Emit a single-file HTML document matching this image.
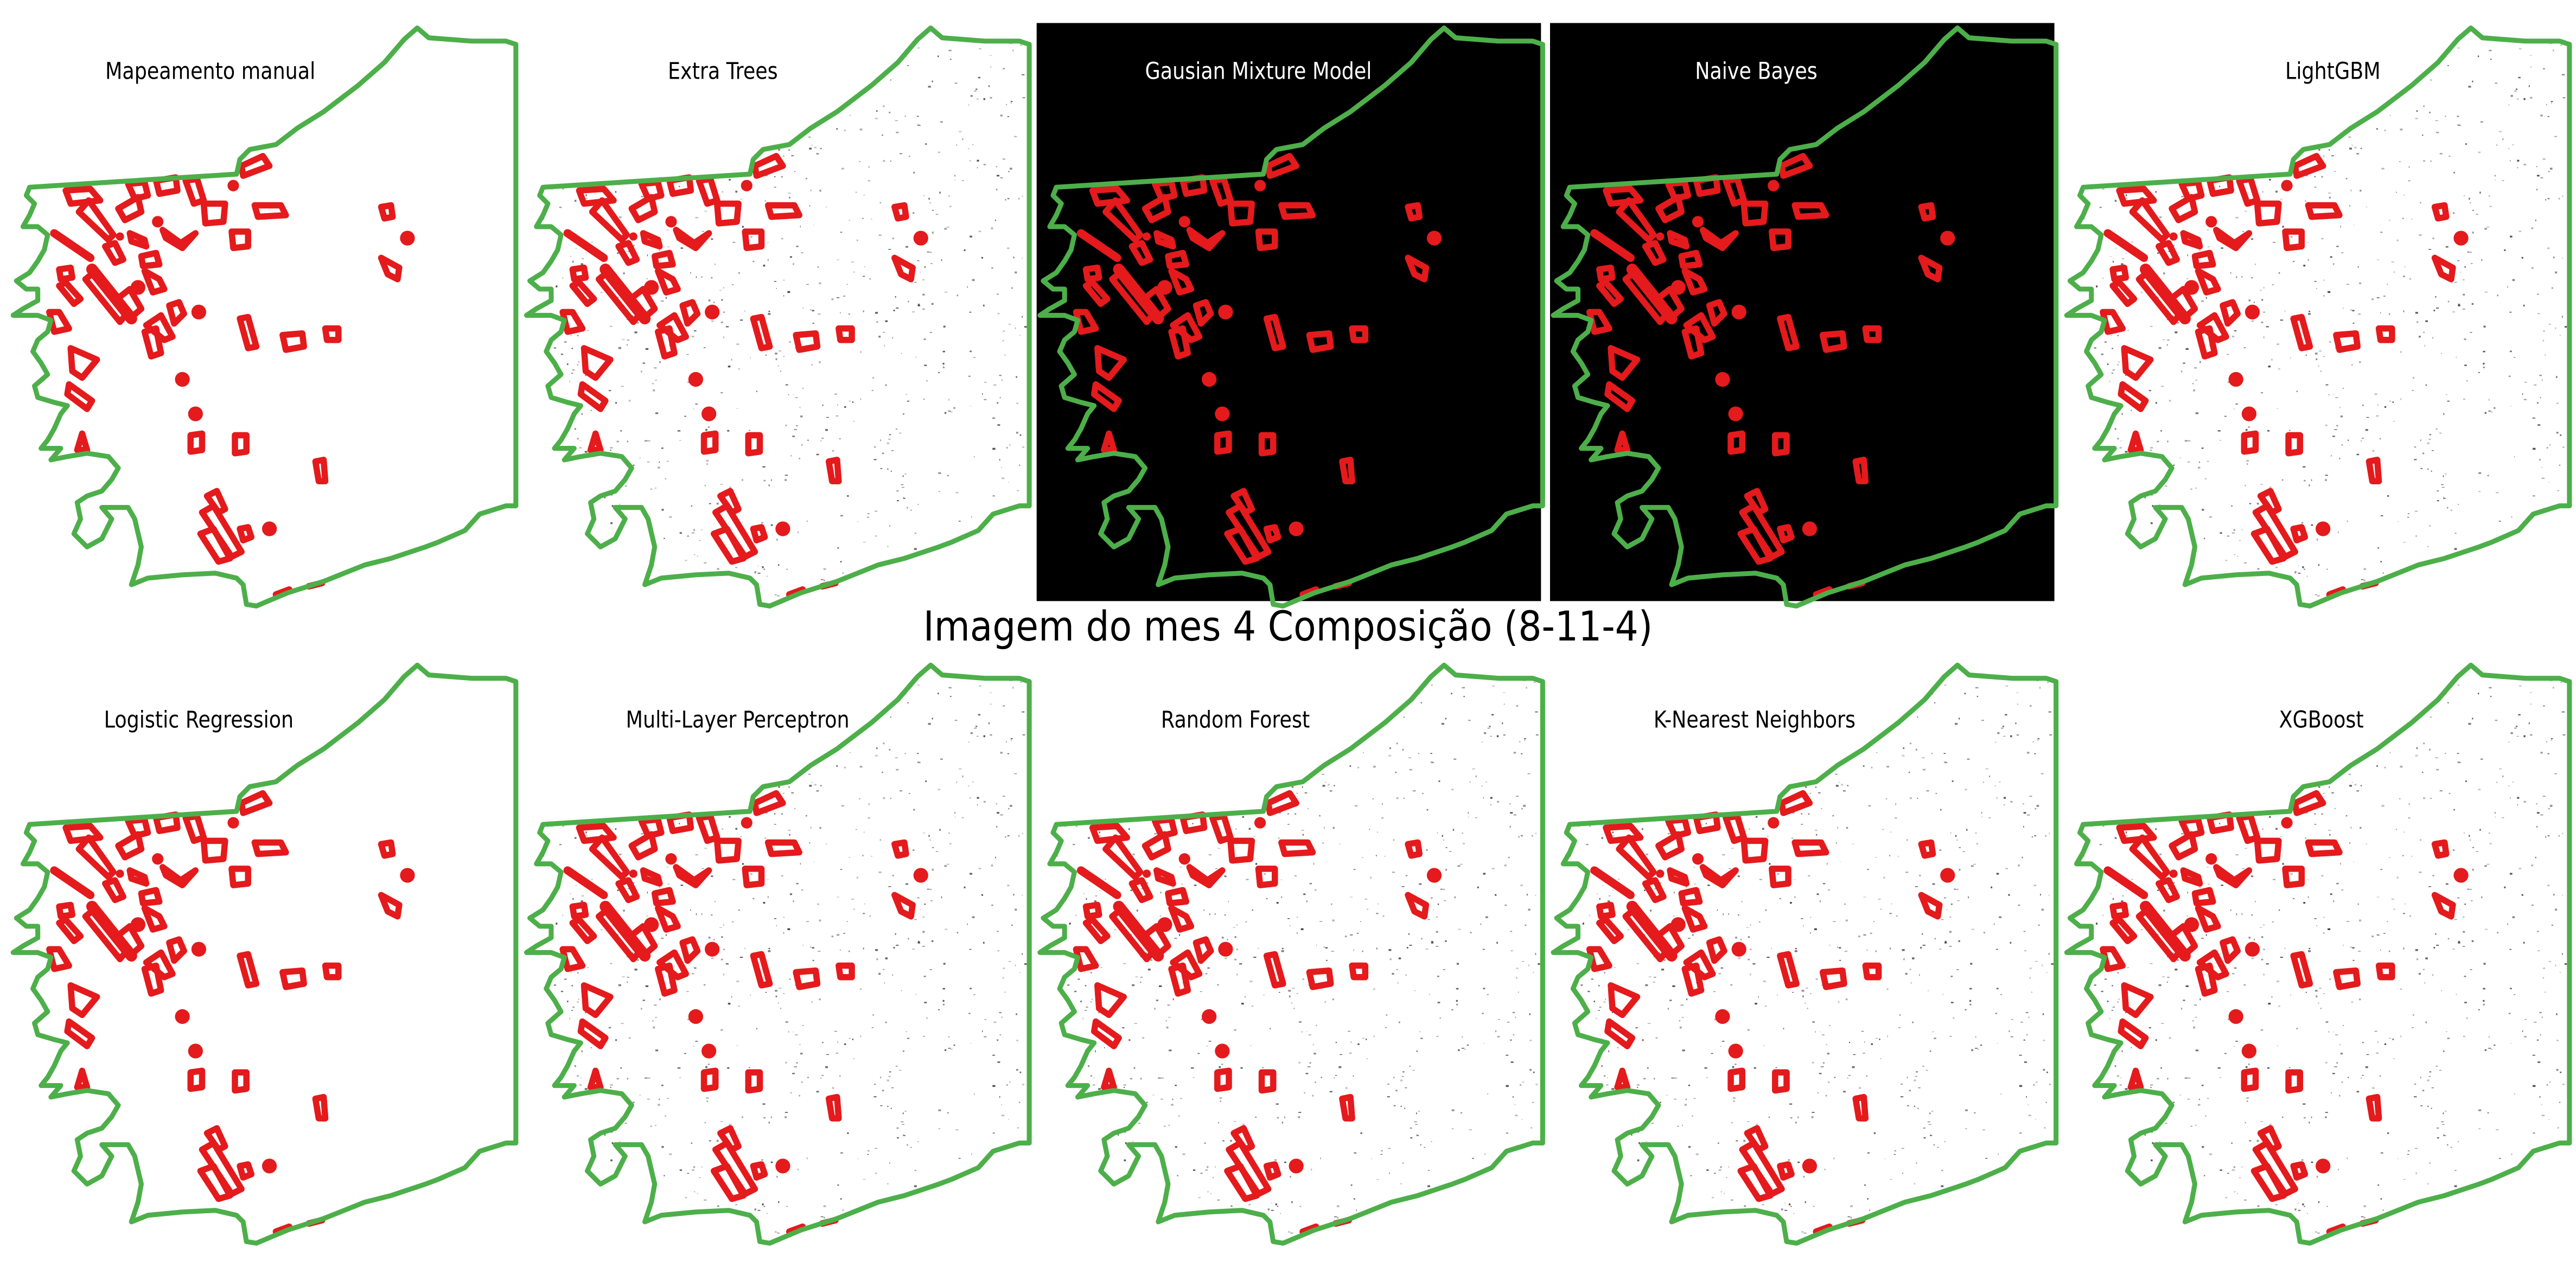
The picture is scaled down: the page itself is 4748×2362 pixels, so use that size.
<!DOCTYPE html>
<html><head><meta charset="utf-8"><style>
html,body{margin:0;padding:0;background:#fff;}
svg{display:block;}
</style></head><body>
<svg id="fig" xmlns="http://www.w3.org/2000/svg" width="4748" height="2362" viewBox="0 0 1568 780">
<rect x="0" y="0" width="1568" height="780" fill="#fff"/>
<text x="784" y="390" text-anchor="middle" font-family="DejaVu Sans, Liberation Sans, sans-serif" font-size="25" textLength="444" lengthAdjust="spacingAndGlyphs" fill="#000">Imagem do mes 4 Composição (8-11-4)</text>
</svg>
<script>
const panelTitles = ["Mapeamento manual","Extra Trees","Gausian Mixture Model","Naive Bayes","LightGBM","Logistic Regression","Multi-Layer Perceptron","Random Forest","K-Nearest Neighbors","XGBoost"];
const panelNames = ["manual-mapping","extra-trees","gaussian-mixture-model","naive-bayes","lightgbm","logistic-regression","multi-layer-perceptron","random-forest","k-nearest-neighbors","xgboost"];
const titleCenters = [128,440,766,1069,1420,121,449,752,1068,1413];
const darkPanels = [false,false,true,true,false,false,false,false,false,false];
const speckle = [0,1,0,0,1,0,1,1,1,1];

const boundary = [18,114,144,106,146,97,152,91,168,88,181,78,197,68,218,52,234,38,246,24,254,17,261,23,287,25,308,25,314,27,314,308,308,308,292,313,283,323,267,330,259,333,238,340,222,344,197,354,175,361,156,369,150,368,148,356,144,352,131,349,111,350,90,352,80,356,84,344,86,333,82,316,78,309,74,309,62,309,68,316,62,328,53,333,45,325,49,316,47,306,53,302,62,299,68,292,72,285,66,278,53,276,41,278,31,280,37,273,25,273,29,268,33,261,37,252,41,247,33,245,23,242,21,235,29,228,25,221,20,214,23,207,29,202,31,195,23,192,16,192,8,192,14,188,23,183,23,176,16,176,10,171,18,166,23,159,27,152,29,143,23,138,14,138,18,131,21,124,16,119];
const polys = [
[147,101,160,95,164,101,148,107],[40,116,55,115,61,122,43,124],[48,129,54,122,69,143,66,146],
[72,127,84,120,86,129,76,134],[78,112,88,111,90,119,82,121],[95,110,107,108,108,116,97,118],
[113,110,120,109,124,122,118,124],[124,124,137,124,136,135,125,136],[155,125,171,125,174,131,157,132],
[141,141,151,141,151,150,142,151],[99,140,110,148,119,142,111,151,101,145],[79,142,88,146,89,150,80,147],
[64,150,70,148,75,158,70,160],[86,156,95,154,97,161,87,162],[52,170,57,166,78,190,73,196],
[70,183,79,176,86,188,79,194],[36,164,43,163,44,169,37,170],[36,174,40,172,49,182,45,185],
[88,165,97,170,100,176,93,178],[30,190,36,190,42,200,33,202],[89,198,98,192,105,205,100,207],
[88,202,95,200,98,215,92,217],[103,186,109,184,112,191,106,197],[146,194,151,193,156,211,151,212],
[172,204,184,203,185,211,174,213],[198,200,206,200,206,207,199,207],[43,212,59,219,50,230,44,226],
[42,234,56,244,53,249,41,240],[116,265,123,264,123,274,116,275],[143,265,150,265,150,275,143,276],
[192,281,197,280,198,293,194,293],[50,264,53,274,47,274],[126,302,132,299,137,310,133,312],
[123,312,130,308,147,336,141,339],[122,325,130,322,140,340,133,342],[146,322,151,321,153,327,148,329],
[232,126,238,125,239,132,234,133],[232,157,243,163,242,170,236,167]];
const blobs = [[142,113,3.5],[96,135,3.5],[73,144,2.5],[84,175,4.5],[121,190,4.5],[111,231,4.5],[119,252,4.5],[164,322,4.5],[248,145,4.5]];
const bars = [[33,142,55,157,5],[56,164,80,194,7],[168,362,176,359,4],[188,357,196,355,4]];

const NS = "http://www.w3.org/2000/svg";
const svg = document.getElementById('fig');
const colStep = 312.5, rowStep = 388;
let seed = 12345;
function rnd(){ seed = (seed*1103515245+12345) % 2147483648; return seed/2147483648; }
const ptsStr = (a,dx,dy)=>{let s=[];for(let i=0;i<a.length;i+=2)s.push((a[i]+dx).toFixed(1)+","+(a[i+1]+dy).toFixed(1));return s.join(" ");};

const defs = document.createElementNS(NS,'defs');
svg.appendChild(defs);

panelTitles.forEach((title,i)=>{
  const col = i%5, row = Math.floor(i/5);
  const dx = col*colStep, dy = row*rowStep;
  const g = document.createElementNS(NS,'g');
  
  
  svg.appendChild(g);
  if (darkPanels[i]) {
    const bg = document.createElementNS(NS,'rect');
    
    
    bg.setAttribute('x', 631+dx-625); bg.setAttribute('y', 14+dy);
    bg.setAttribute('width', 307); bg.setAttribute('height', 352);
    bg.setAttribute('fill', '#000');
    g.appendChild(bg);
  }
  if (speckle[i]) {
    const cp = document.createElementNS(NS,'clipPath');
    cp.setAttribute('id','clip'+i);
    const cpp = document.createElementNS(NS,'polygon');
    cpp.setAttribute('points', ptsStr(boundary,dx,dy));
    cp.appendChild(cpp); defs.appendChild(cp);
    const sg = document.createElementNS(NS,'g');
    
    
    sg.setAttribute('clip-path','url(#clip'+i+')');
    seed = 777;
    for (let k=0;k<900;k++){
      const x = 15+rnd()*300, y = 20+rnd()*350;
      const c = document.createElementNS(NS,'rect');
      c.setAttribute('x',(x+dx).toFixed(1)); c.setAttribute('y',(y+dy).toFixed(1));
      const w = 0.4+rnd()*1.4;
      c.setAttribute('width',w.toFixed(2)); c.setAttribute('height',(0.4+rnd()*0.8).toFixed(2));
      c.setAttribute('fill','#000'); c.setAttribute('opacity',(0.2+rnd()*0.5).toFixed(2));
      sg.appendChild(c);
    }
    g.appendChild(sg);
  }
  const redG = document.createElementNS(NS,'g');
  
  
  g.appendChild(redG);
  polys.forEach(p=>{
    const e = document.createElementNS(NS,'polygon');
    
    
    e.setAttribute('points', ptsStr(p,dx,dy));
    e.setAttribute('fill','none'); e.setAttribute('stroke','#e41a1c');
    e.setAttribute('stroke-width','3.8'); e.setAttribute('stroke-linejoin','round');
    redG.appendChild(e);
  });
  blobs.forEach(b=>{
    const e = document.createElementNS(NS,'circle');
    
    
    e.setAttribute('cx', b[0]+dx); e.setAttribute('cy', b[1]+dy); e.setAttribute('r', b[2]);
    e.setAttribute('fill','#e41a1c');
    redG.appendChild(e);
  });
  bars.forEach(b=>{
    const e = document.createElementNS(NS,'line');
    
    
    e.setAttribute('x1', b[0]+dx); e.setAttribute('y1', b[1]+dy);
    e.setAttribute('x2', b[2]+dx); e.setAttribute('y2', b[3]+dy);
    e.setAttribute('stroke','#e41a1c'); e.setAttribute('stroke-width', b[4]);
    e.setAttribute('stroke-linecap','round');
    redG.appendChild(e);
  });
  const bd = document.createElementNS(NS,'polygon');
  
  
  bd.setAttribute('points', ptsStr(boundary,dx,dy));
  bd.setAttribute('fill','none'); bd.setAttribute('stroke','#4daf4a');
  bd.setAttribute('stroke-width','3'); bd.setAttribute('stroke-linejoin','round');
  g.appendChild(bd);
  const t = document.createElementNS(NS,'text');
  
  
  t.setAttribute('x', titleCenters[i]); t.setAttribute('y', 48+row*395);
  t.setAttribute('text-anchor','middle');
  t.setAttribute('font-family','DejaVu Sans, Liberation Sans, sans-serif');
  t.setAttribute('font-size','14');
  t.setAttribute('fill', darkPanels[i] ? '#fff' : '#000');
  t.textContent = title;
  g.appendChild(t);
  const natural = t.getComputedTextLength();
  t.setAttribute('textLength', (natural*0.86).toFixed(1));
  t.setAttribute('lengthAdjust','spacingAndGlyphs');
});
</script>
</body></html>
